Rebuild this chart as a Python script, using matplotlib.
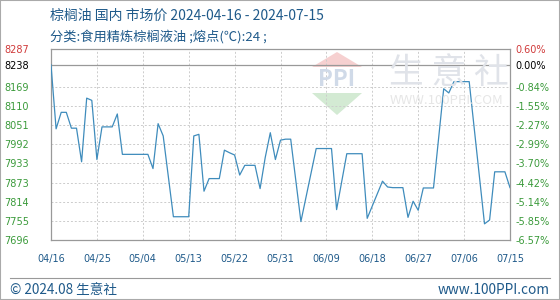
import pandas as pd
import matplotlib
matplotlib.use('Agg')
import matplotlib.pyplot as plt
from matplotlib.patches import Polygon, Rectangle
from matplotlib.lines import Line2D

plt.rcParams['font.family'] = ['Noto Sans CJK SC', 'DejaVu Sans']

# 数据
dates = ['04-16', '04-17', '04-18', '04-19', '04-20', '04-21', '04-22', '04-23', '04-24',
         '04-25', '04-26', '04-27', '04-28', '04-29', '04-30', '05-01', '05-02', '05-03',
         '05-04', '05-05', '05-06', '05-07', '05-08', '05-10', '05-11', '05-12', '05-13',
         '05-14', '05-15', '05-16', '05-17', '05-18', '05-19', '05-20', '05-21', '05-22',
         '05-23', '05-24', '05-25', '05-26', '05-27', '05-28', '05-29', '05-30', '05-31',
         '06-01', '06-02', '06-04', '06-07', '06-08', '06-09', '06-10', '06-11', '06-13',
         '06-14', '06-15', '06-16', '06-17', '06-20', '06-21', '06-22', '06-23', '06-24',
         '06-25', '06-26', '06-27', '06-28', '06-29', '06-30', '07-02', '07-03', '07-04',
         '07-05', '07-06', '07-07', '07-10', '07-11', '07-12', '07-13', '07-14', '07-15']
prices = [8238, 8040, 8091, 8091, 8042, 8042, 7938, 8135, 8128,
          7945, 8046, 8046, 8046, 8086, 7961, 7961, 7961, 7961,
          7961, 7961, 7917, 8056, 8018, 7768, 7768, 7768, 7768,
          8018, 8023, 7847, 7886, 7886, 7886, 7974, 7966, 7959,
          7897, 7927, 7927, 7927, 7855, 7951, 8028, 7945, 8005,
          8008, 8008, 7753, 7979, 7979, 7979, 7979, 7790, 7963,
          7963, 7963, 7963, 7763, 7878, 7860, 7858, 7858, 7858,
          7766, 7816, 7788, 7857, 7857, 7857, 8164, 8151, 8186,
          8186, 8186, 8186, 7746, 7758, 7907, 7907, 7907, 7858]

y_ticks = [7696, 7755, 7814, 7873, 7933, 7992, 8051, 8110, 8169, 8238, 8287]
pct_labels = ['-6.57%', '-5.85%', '-5.14%', '-4.42%', '-3.70%', '-2.99%', '-2.27%',
              '-1.55%', '-0.84%', '0.00%', '0.60%']
x_ticks = ['04-16', '04-25', '05-04', '05-13', '05-22', '05-31', '06-09', '06-18',
           '06-27', '07-06', '07-15']

RED = '#d03a3a'
GREEN = '#3a9a3a'
BLUE = '#1f5a8a'


def label_color(i):
    if i == len(y_ticks) - 1:
        return RED
    if i == len(y_ticks) - 2:
        return 'black'
    return GREEN


def px(x, y):
    # 像素坐标 -> figure坐标
    return (x / 560, 1 - y / 300)


def draw_chart():
    t = pd.to_datetime(['2024-' + d for d in dates])
    xt = pd.to_datetime(['2024-' + d for d in x_ticks])

    fig = plt.figure(figsize=(5.6, 3.0), dpi=100)
    ax = fig.add_axes([51 / 560, 60 / 300, 459 / 560, 191 / 300])

    # 水印
    fig.add_artist(Polygon([px(312, 67), px(362, 67), px(337, 52)], closed=True,
                           facecolor='#f6d0d0', edgecolor='none', zorder=0))
    fig.add_artist(Polygon([px(312, 93), px(362, 93), px(337, 115)], closed=True,
                           facecolor='#d3ead3', edgecolor='none', zorder=0))
    fig.text(337 / 560, 1 - 80 / 300, 'PPI', color='#d0dae8', fontsize=16, fontweight='bold',
             ha='center', va='center', zorder=0)
    fig.text(449 / 560, 1 - 73 / 300, '生 意 社', color='#e0e3e9', fontsize=25,
             ha='center', va='center', zorder=0)
    fig.text(447 / 560, 1 - 101 / 300, 'WWW.100PPI.COM', color='#e6e6e6', fontsize=9.5,
             ha='center', va='center', zorder=0)
    ax.set_facecolor('none')

    ax.plot(t, prices, color='#3f8cbc', linewidth=0.9, zorder=3)

    ax.set_xlim(xt[0], xt[-1])
    ax.set_ylim(y_ticks[0], y_ticks[-1])

    ax.set_yticks(y_ticks)
    ax.set_yticklabels([str(v) for v in y_ticks], fontsize=7, family='DejaVu Sans')
    for i, lab in enumerate(ax.get_yticklabels()):
        lab.set_color(label_color(i))
    ax.tick_params(axis='y', length=0, pad=16)

    ax.set_xticks(xt)
    ax.set_xticklabels([d.replace('-', '/') for d in x_ticks], fontsize=7,
                       family='DejaVu Sans', color=BLUE)
    ax.tick_params(axis='x', length=0, pad=10)

    ax.grid(True, linestyle=(0, (2, 2)), color='#cccccc', linewidth=0.7)
    ax.axhline(8238, color='#999999', linewidth=0.9, zorder=2)
    for s in ax.spines.values():
        s.set_color('#999999')
        s.set_linewidth(0.9)

    ax2 = ax.twinx()
    ax2.set_ylim(y_ticks[0], y_ticks[-1])
    ax2.set_yticks(y_ticks)
    ax2.set_yticklabels(pct_labels, fontsize=7, family='DejaVu Sans')
    for i, lab in enumerate(ax2.get_yticklabels()):
        lab.set_color(label_color(i))
    ax2.tick_params(axis='y', length=0, pad=4)
    for s in ax2.spines.values():
        s.set_visible(False)

    # 标题
    fig.text(50 / 560, 1 - 16 / 300, '棕榈油 国内 市场价 2024-04-16 - 2024-07-15',
             color=BLUE, fontsize=10, va='center')
    fig.text(50 / 560, 1 - 37 / 300, '分类:食用精炼棕榈液油 ;熔点(℃):24 ;',
             color=BLUE, fontsize=9.5, va='center')

    # 底部
    fig.add_artist(Line2D([10 / 560, 550 / 560], [1 - 278 / 300, 1 - 278 / 300],
                          color='#999999', linewidth=0.8))
    fig.text(10 / 560, 1 - 290 / 300, '© 2024.08 生意社', color=BLUE, fontsize=9.8,
             va='center')
    fig.text(550 / 560, 1 - 290 / 300, 'www.100PPI.com', color=BLUE, fontsize=9.8,
             va='center', ha='right')
    fig.add_artist(Rectangle((0, 0), 1, 1, transform=fig.transFigure, fill=False,
                             edgecolor='#aaaaaa', linewidth=1.5))

    fig.savefig('out.png', dpi=100)


if __name__ == '__main__':
    draw_chart()
